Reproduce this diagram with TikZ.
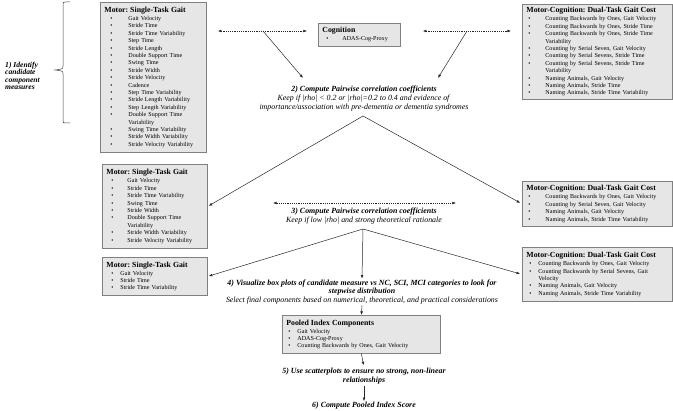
\documentclass[tikz,border=0pt]{standalone}
\usepackage{fontspec}
\setmainfont{Liberation Serif}
\usetikzlibrary{arrows.meta}
\frenchspacing
\definecolor{boxfill}{RGB}{230,230,230}
\definecolor{boxline}{RGB}{128,128,128}
\newlength\bulA
\newlength\bulB
\newcommand{\bitem}[1]{\par\noindent\hspace*{\bulA}\makebox[\dimexpr\bulB-\bulA\relax][l]{\textbullet}\mbox{#1}}
\newcommand{\bcont}[1]{\par\noindent\hspace*{\bulB}\mbox{#1}}
\newcommand{\bttl}[1]{{\fontsize{7.8}{8.6}\selectfont\bfseries #1\par}\vspace{0.6pt}}
\newcommand{\bim}[1]{{\bfseries\itshape #1}}
\begin{document}
\begin{tikzpicture}[x=1pt,y=-1pt,
  box/.style={draw=boxline, fill=boxfill, line width=0.8pt, anchor=north west,
    inner xsep=4pt, inner ysep=2pt, align=left,
    font=\fontsize{6.1}{7.4}\selectfont},
  lbl/.style={inner sep=1pt, align=center, font=\fontsize{7.9}{9}\selectfont},
  arr/.style={draw=black!85, line width=0.5pt, -{Latex[length=3.6pt,width=2.7pt]}},
  darr/.style={draw=black!85, line width=0.5pt, dash pattern=on 1.3pt off 0.9pt,
    {Latex[length=3.6pt,width=2.7pt]}-{Latex[length=3.6pt,width=2.7pt]}}
]
\useasboundingbox (0,0) rectangle (673,411);

% ---------- boxes ----------
\node[box, text width=98pt, minimum height=150pt] (L1) at (100,2) {%
\setlength\bulA{6pt}\setlength\bulB{24pt}%
\bttl{Motor: Single-Task Gait}%
\bitem{Gait Velocity}\bitem{Stride Time}\bitem{Stride Time Variability}%
\bitem{Step Time}\bitem{Stride Length}\bitem{Double Support Time}%
\bitem{Swing Time}\bitem{Stride Width}\bitem{Stride Velocity}\bitem{Cadence}%
\bitem{Step Time Variability}\bitem{Stride Length Variability}%
\bitem{Step Length Variability}\bitem{Double Support Time}\bcont{Variability}%
\bitem{Swing Time Variability}\bitem{Stride Width Variability}%
\bitem{Stride Velocity Variability}};

\node[box, text width=74pt, minimum height=23pt] (Cog) at (318,23) {%
\setlength\bulA{4pt}\setlength\bulB{20pt}%
\bttl{Cognition}%
\bitem{ADAS-Cog-Proxy}};

\node[box, text width=142pt, minimum height=95pt] (R1) at (522,4) {%
\setlength\bulA{2pt}\setlength\bulB{19pt}%
\bttl{Motor-Cognition: Dual-Task Gait Cost}%
\bitem{Counting Backwards by Ones, Gait Velocity}%
\bitem{Counting Backwards by Ones, Stride Time}%
\bitem{Counting Backwards by Ones, Stride Time}\bcont{Variability}%
\bitem{Counting by Serial Seven, Gait Velocity}%
\bitem{Counting by Serial Sevens, Stride Time}%
\bitem{Counting by Serial Sevens, Stride Time}\bcont{Variability}%
\bitem{Naming Animals, Gait Velocity}%
\bitem{Naming Animals, Stride Time}%
\bitem{Naming Animals, Stride Time Variability}};

\node[box, text width=97pt, minimum height=84pt] (L2) at (102,164) {%
\setlength\bulA{5pt}\setlength\bulB{21pt}%
\bttl{Motor: Single-Task Gait}%
\bitem{Gait Velocity}\bitem{Stride Time}\bitem{Stride Time Variability}%
\bitem{Swing Time}\bitem{Stride Width}\bitem{Double Support Time}\bcont{Variability}%
\bitem{Stride Width Variability}\bitem{Stride Velocity Variability}};

\node[box, text width=142pt, minimum height=45pt] (R2) at (522,181) {%
\setlength\bulA{2pt}\setlength\bulB{19pt}%
\bttl{Motor-Cognition: Dual-Task Gait Cost}%
\bitem{Counting Backwards by Ones, Gait Velocity}%
\bitem{Counting by Serial Seven, Gait Velocity}%
\bitem{Naming Animals, Gait Velocity}%
\bitem{Naming Animals, Stride Time Variability}};

\node[box, text width=97pt, minimum height=38pt] (L3) at (102,257) {%
\setlength\bulA{5pt}\setlength\bulB{14pt}%
\bttl{Motor: Single-Task Gait}%
\bitem{Gait Velocity}\bitem{Stride Time}\bitem{Stride Time Variability}};

\node[box, text width=142pt, minimum height=54pt] (R3) at (522,247) {%
\setlength\bulA{3pt}\setlength\bulB{12pt}%
\bttl{Motor-Cognition: Dual-Task Gait Cost}%
\bitem{Counting Backwards by Ones, Gait Velocity}%
\bitem{Counting Backwards by Serial Sevens, Gait}\bcont{Velocity}%
\bitem{Naming Animals, Gait Velocity}%
\bitem{Naming Animals, Stride Time Variability}};

\node[box, text width=150pt, minimum height=38pt] (Pool) at (282,315) {%
\setlength\bulA{2pt}\setlength\bulB{11pt}%
\bttl{Pooled Index Components}%
\bitem{Gait Velocity}\bitem{ADAS-Cog-Proxy}%
\bitem{Counting Backwards by Ones, Gait Velocity}};

% ---------- step texts ----------
\node[lbl, anchor=west, align=left, font=\fontsize{7.6}{7.5}\selectfont] (T1) at (4,76)
  {\bim{1) Identify}\\\bim{candidate}\\\bim{component}\\\bim{measures}};
\node[lbl] (T2) at (364,99)
  {\bim{2) Compute Pairwise correlation coefficients}\\
   \textit{Keep if |rho| < 0.2 or |rho|=0.2 to 0.4 and evidence of}\\
   \textit{importance/association with pre-dementia or dementia syndromes}};
\node[lbl] (T3) at (364,216.5)
  {\bim{3) Compute Pairwise correlation coefficients}\\
   \textit{Keep if low |rho| and strong theoretical rationale}};
\node[lbl, font=\fontsize{7.9}{8.5}\selectfont] (T4) at (362,292)
  {\bim{4) Visualize box plots of candidate measure vs NC, SCI, MCI categories to look for}\\
   \bim{stepwise distribution}\\
   \textit{Select final components based on numerical, theoretical, and practical considerations}};
\node[lbl] (T5) at (364,376.5)
  {\bim{5) Use scatterplots to ensure no strong, non-linear}\\\bim{relationships}};
\node[lbl] (T6) at (364,406) {\bim{6) Compute Pooled Index Score}};

% ---------- brace ----------
\draw[black!75, line width=0.5pt]
  (70,2) -- (66,2) .. controls (63,2) .. (63,5) -- (63,66)
  .. controls (63,69) .. (55,70) .. controls (63,71) .. (63,74) -- (63,120)
  .. controls (63,123) .. (66,123) -- (70,123);

% ---------- connectors ----------
\coordinate (da1) at (263,31);
\coordinate (da2) at (467,31);
\coordinate (t2l) at (303,78);
\coordinate (t2r) at (438,78);
\coordinate (s2) at (363,116);
\coordinate (s3) at (363,229);
\coordinate (db1) at (273,203);
\coordinate (db2) at (456,203);

\draw[darr, shorten <=11pt, shorten >=11pt] (L1.east |- 0,31) -- (Cog.west |- 0,31);
\draw[darr, shorten <=22pt, shorten >=11pt] (Cog.east |- 0,31) -- (R1.west |- 0,31);
\draw[arr] (da1) -- (t2l);
\draw[arr] (da2) -- (t2r);
\draw[arr, shorten >=1pt] (s2) -- (L2.east);
\draw[arr, shorten >=2pt] (s2) -- (R2.west);
\draw[darr] (db1) -- (db2);
\draw[arr, shorten >=1pt] (s3) -- (L3.east);
\draw[arr, shorten >=2pt] (s3) -- (R3.west);
\draw[arr] (s3) -- (T4.north);
\draw[arr] (T4.south) -- (Pool.north);
\draw[arr, shorten >=2pt] (Pool.south) -- (T5.north);
\draw[arr] (T5.south) -- (T6.north);
\end{tikzpicture}
\end{document}
